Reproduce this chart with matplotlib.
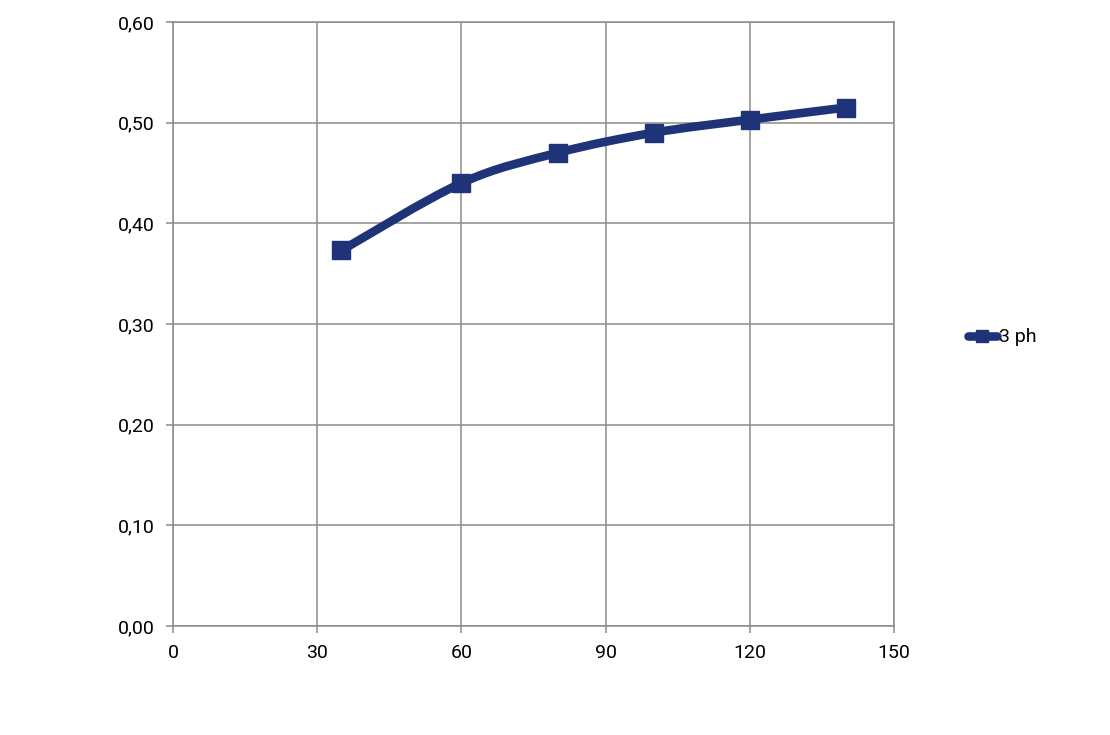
import numpy as np
import matplotlib.pyplot as plt
from matplotlib.path import Path
from matplotlib.patches import PathPatch
from matplotlib.lines import Line2D

x_vals = [35, 60, 80, 100, 120, 140]
y_vals = [0.373, 0.440, 0.470, 0.490, 0.503, 0.515]
series_name = "3 ph"
x_ticks = [0, 30, 60, 90, 120, 150]
y_ticks = [0.0, 0.1, 0.2, 0.3, 0.4, 0.5, 0.6]

color = "#1f3478"
grid_color = "#8c8c8c"

plt.rcParams['font.family'] = ['Roboto', 'DejaVu Sans']

fig = plt.figure(figsize=(11.1, 7.35), dpi=100)
ax = fig.add_axes([0.1559, 0.1483, 0.6495, 0.8218])

# smoothed line like the spreadsheet: Catmull-Rom segments as cubic beziers
pts = np.column_stack([x_vals, y_vals])
verts = [tuple(pts[0])]
codes = [Path.MOVETO]
n = len(pts)
for i in range(n - 1):
    p0 = pts[max(i - 1, 0)]
    p1 = pts[i]
    p2 = pts[i + 1]
    p3 = pts[min(i + 2, n - 1)]
    c1 = p1 + (p2 - p0) / 6
    c2 = p2 - (p3 - p1) / 6
    verts += [tuple(c1), tuple(c2), tuple(p2)]
    codes += [Path.CURVE4] * 3
ax.add_patch(PathPatch(Path(verts, codes), facecolor="none", edgecolor=color,
                       lw=6.2, capstyle="round", zorder=3))
ax.plot(x_vals, y_vals, linestyle="none", marker="s", markersize=12.5,
        color=color, zorder=4)

ax.set_xlim(0, 150)
ax.set_ylim(0, 0.6)
ax.set_xticks(x_ticks)
ax.set_yticks(y_ticks)
ax.set_yticklabels([f"{v:.2f}".replace(".", ",") for v in y_ticks])
ax.set_xticklabels([str(v) for v in x_ticks])
ax.grid(True, color=grid_color, linewidth=1.1)
ax.set_axisbelow(True)
for s in ax.spines.values():
    s.set_color(grid_color)
    s.set_linewidth(1.1)
ax.tick_params(axis="both", colors=grid_color, labelcolor="black",
               labelsize=14, length=5, width=1.1)
ax.tick_params(axis="y", pad=8)
ax.tick_params(axis="x", pad=8)

handle = Line2D([], [], color=color, lw=6.2, marker="s", markersize=9,
                solid_capstyle="round")
fig.legend([handle], [series_name], loc="center left",
           bbox_to_anchor=(0.856, 0.541), frameon=False, fontsize=14,
           handlelength=1.5, handletextpad=0.1)

fig.savefig("out.png", dpi=100)
